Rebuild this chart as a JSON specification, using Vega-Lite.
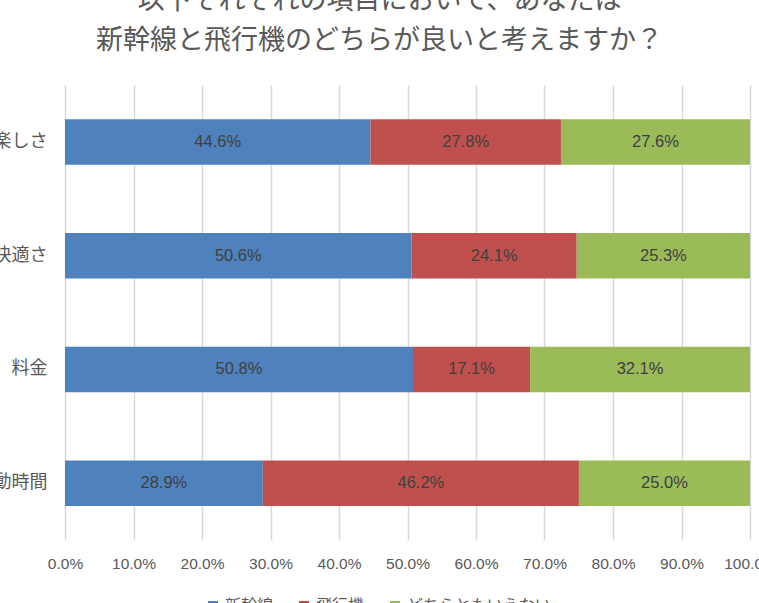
{
  "$schema": "https://vega.github.io/schema/vega-lite/v6.json",
  "width": 685,
  "height": 455,
  "autosize": "none",
  "padding": {"left": 65, "top": 85, "right": 9, "bottom": 63},
  "background": "white",
  "config": {"view": {"stroke": null}},
  "title": {
    "text": ["以下それぞれの項目において、あなたは", "新幹線と飛行機のどちらが良いと考えますか？"],
    "font": "Noto Sans CJK JP",
    "fontSize": 27,
    "fontWeight": "normal",
    "color": "#595959",
    "lineHeight": 40,
    "anchor": "middle",
    "dx": -28,
    "offset": 30
  },
  "data": {
    "values": [
      {"item": "楽しさ", "answer": "新幹線", "order": 1, "share": 0.446},
      {"item": "楽しさ", "answer": "飛行機", "order": 2, "share": 0.278},
      {"item": "楽しさ", "answer": "どちらともいえない", "order": 3, "share": 0.276},
      {"item": "快適さ", "answer": "新幹線", "order": 1, "share": 0.506},
      {"item": "快適さ", "answer": "飛行機", "order": 2, "share": 0.241},
      {"item": "快適さ", "answer": "どちらともいえない", "order": 3, "share": 0.253},
      {"item": "料金", "answer": "新幹線", "order": 1, "share": 0.508},
      {"item": "料金", "answer": "飛行機", "order": 2, "share": 0.171},
      {"item": "料金", "answer": "どちらともいえない", "order": 3, "share": 0.321},
      {"item": "移動時間", "answer": "新幹線", "order": 1, "share": 0.289},
      {"item": "移動時間", "answer": "飛行機", "order": 2, "share": 0.462},
      {"item": "移動時間", "answer": "どちらともいえない", "order": 3, "share": 0.25}
    ]
  },
  "transform": [
    {"stack": "share", "groupby": ["item"], "sort": [{"field": "order"}], "offset": "normalize", "as": ["s0", "s1"]},
    {"calculate": "(datum.s0 + datum.s1) / 2", "as": "mid"}
  ],
  "encoding": {
    "y": {
      "field": "item",
      "type": "nominal",
      "sort": ["楽しさ", "快適さ", "料金", "移動時間"],
      "scale": {"paddingInner": 0.6, "paddingOuter": 0.3},
      "axis": {
        "title": null,
        "domain": false,
        "ticks": false,
        "labelPadding": 18,
        "labelFont": "Noto Sans CJK JP",
        "labelFontSize": 18,
        "labelColor": "#595959"
      }
    }
  },
  "layer": [
    {
      "mark": {"type": "bar"},
      "encoding": {
        "x": {
          "field": "s0",
          "type": "quantitative",
          "scale": {"domain": [0, 1], "nice": false},
          "axis": {
            "title": null,
            "format": ".1%",
            "values": [0, 0.1, 0.2, 0.3, 0.4, 0.5, 0.6, 0.7, 0.8, 0.9, 1],
            "labelOverlap": false,
            "domain": false,
            "ticks": false,
            "labelPadding": 16,
            "labelFont": "Liberation Sans",
            "labelFontSize": 15.5,
            "labelColor": "#595959",
            "labelFlush": false,
            "gridColor": "#d9d9d9",
            "gridWidth": 1.5
          }
        },
        "x2": {"field": "s1"},
        "color": {
          "field": "answer",
          "type": "nominal",
          "scale": {
            "domain": ["新幹線", "飛行機", "どちらともいえない"],
            "range": ["#4F81BD", "#C0504D", "#9BBB59"]
          },
          "legend": {
            "title": null,
            "orient": "none",
            "direction": "horizontal",
            "legendX": 140,
            "legendY": 513,
            "symbolType": "square",
            "symbolSize": 100,
            "symbolStrokeWidth": 0,
            "labelFont": "Noto Sans CJK JP",
            "labelFontSize": 16,
            "labelColor": "#595959",
            "columnPadding": 22
          }
        }
      }
    },
    {
      "mark": {"type": "text", "font": "Liberation Sans", "fontSize": 16.5, "color": "#404040"},
      "encoding": {
        "x": {"field": "mid", "type": "quantitative"},
        "text": {"field": "share", "type": "quantitative", "format": ".1%"}
      }
    }
  ]
}
